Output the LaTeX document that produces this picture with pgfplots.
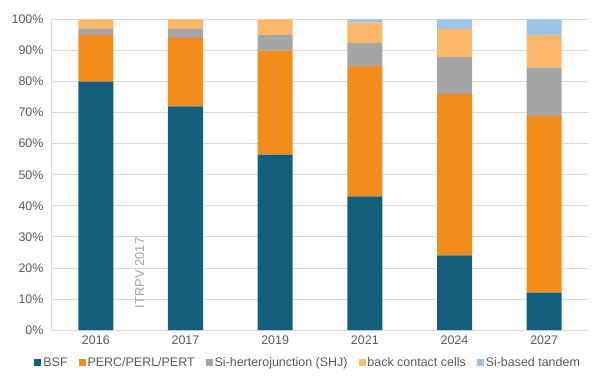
\documentclass[border=0pt]{standalone}
\usepackage{fontspec}
\setmainfont{Liberation Sans}
\usepackage{pgfplots}
\pgfplotsset{compat=1.18}
\definecolor{cBSF}{HTML}{135E7C}
\definecolor{cPERC}{HTML}{F28C1C}
\definecolor{cSHJ}{HTML}{A5A5A5}
\definecolor{cBC}{HTML}{FBB86A}
\definecolor{cTan}{HTML}{9DC3E6}
\definecolor{gridc}{HTML}{D9D9D9}
\definecolor{txt}{HTML}{595959}
\definecolor{wm}{HTML}{A6A6A6}
\begin{document}
\begin{tikzpicture}
\path[use as bounding box] (-51bp,-46bp) rectangle (549bp,330bp);
\begin{axis}[at={(0,0)}, anchor=south west, scale only axis,
  width=538bp, height=310.5bp,
  ybar stacked, bar width=35bp,
  xmin=-0.5, xmax=5.5, ymin=0, ymax=100,
  xtick={0,...,5}, xticklabels={2016,2017,2019,2021,2024,2027},
  ytick={0,10,...,100}, yticklabel={\pgfmathprintnumber{\tick}\%},
  ymajorgrids, grid style={color=gridc, line width=0.8pt},
  axis x line*=bottom, axis y line*=left,
  axis line style={color=gridc, line width=0.8pt, -},
  major tick length=0pt, tick style={draw=none},
  ticklabel style={font=\fontsize{12.5}{14}\selectfont, text=txt},
  yticklabel style={xshift=-4bp},
  xticklabel style={yshift=-2bp},
  /pgf/number format/assume math mode=true,
  legend columns=-1,
  legend style={at={(0.478,-0.105)}, anchor=center, draw=none, fill=none,
    font=\fontsize{12.5}{14}\selectfont, text=txt,
    /tikz/every even column/.append style={column sep=9bp}},
  legend image code/.code={\fill[#1] (0bp,-3.5bp) rectangle (7bp,3.5bp);},
]
\addplot[fill=cBSF, draw=none] coordinates {(0,80) (1,72) (2,56.5) (3,43) (4,24) (5,12)};
\addplot[fill=cPERC, draw=none] coordinates {(0,15) (1,22) (2,33.5) (3,42) (4,52) (5,57)};
\addplot[fill=cSHJ, draw=none] coordinates {(0,2) (1,3) (2,5) (3,7.5) (4,12) (5,15.5)};
\addplot[fill=cBC, draw=none] coordinates {(0,3) (1,3) (2,5) (3,6.5) (4,9) (5,10.5)};
\addplot[fill=cTan, draw=none] coordinates {(0,0) (1,0) (2,0) (3,1) (4,3) (5,5)};
\legend{BSF, PERC/PERL/PERT, Si-herterojunction (SHJ), back contact cells, Si-based tandem}
\node[rotate=90, text=wm, font=\fontsize{13}{14}\selectfont] at (axis cs:0.49,18.4) {ITRPV 2017};
\end{axis}
\end{tikzpicture}
\end{document}
